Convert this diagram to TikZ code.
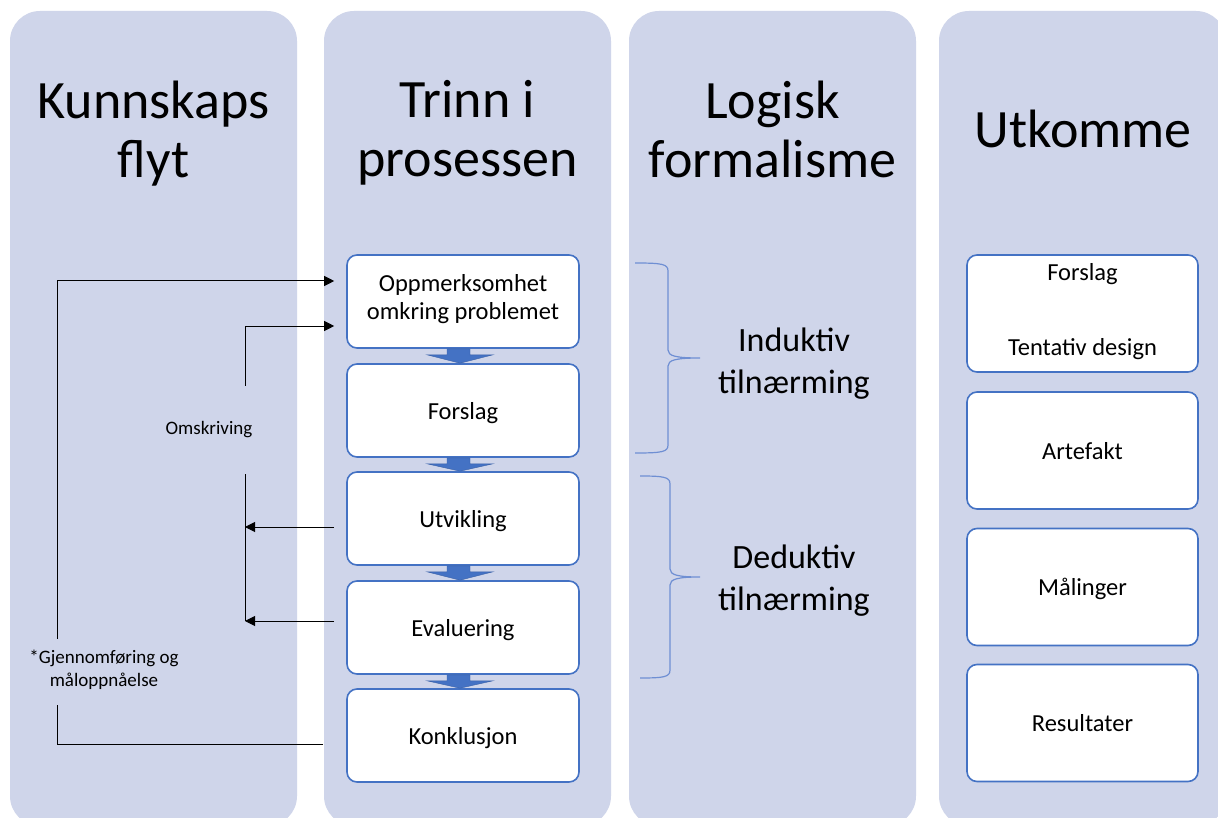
\documentclass[tikz,border=0pt]{standalone}
\usepackage{fontspec}
\setmainfont{Carlito}
\usetikzlibrary{arrows.meta,calc}
\definecolor{lanefill}{HTML}{CFD5EA}
\definecolor{accent}{HTML}{4472C4}
\definecolor{bracecol}{HTML}{6F8FD3}
% curly brace: #1 x of ends, #2 x of stem, #3 x of tip, #4 top y, #5 tip y, #6 bottom y
\newcommand\drawbrace[6]{%
  \draw[bracecol, line width=1.2pt]
    (#1,#4) .. controls (#2-6,#4) and (#2,#4+1) .. (#2,#4+8)
    -- (#2,#5-8) .. controls (#2,#5-2) and (#2+8,#5) .. (#3,#5)
    .. controls (#2+8,#5) and (#2,#5+2) .. (#2,#5+8)
    -- (#2,#6-8) .. controls (#2,#6-1) and (#2-6,#6) .. (#1,#6);}
% a taller strut that sets the box text slightly lower
\newcommand\lowstrut{\rule{0pt}{\dimexpr0.7\baselineskip+6pt\relax}}
\begin{document}
\begin{tikzpicture}[x=1pt,y=-1pt,
  lane/.style={fill=lanefill, rounded corners=30pt},
  title/.style={font=\fontsize{54}{59}\selectfont, align=center, inner sep=0pt,
    execute at begin node=\strut, execute at end node=\strut},
  stepbox/.style={draw=accent, line width=1.6pt, fill=white, rounded corners=10pt,
    minimum width=232pt, minimum height=93pt, inner sep=0pt, align=center,
    font=\fontsize{24.5}{28}\selectfont,
    execute at begin node=\lowstrut, execute at end node=\strut},
  outbox/.style={stepbox, minimum width=231pt, minimum height=117pt},
  approach/.style={font=\fontsize{34}{42}\selectfont, align=center, inner sep=0pt,
    execute at begin node=\strut, execute at end node=\strut},
  flowlabel/.style={font=\fontsize{19}{23}\selectfont, align=center, fill=lanefill,
    inner xsep=1pt, inner ysep=0pt,
    execute at begin node=\strut, execute at end node=\strut},
  link/.style={draw=black, line width=1pt},
  tip/.style={-{Triangle[length=10pt,width=10pt]}},
  blockarrow/.style={fill=accent, draw=accent!85!black, line width=0.4pt}]

\useasboundingbox (0,0) rectangle (1218,818);
\clip (0,0) rectangle (1218,818);
\fill[white] (0,0) rectangle (1218,818);

% columns
\fill[lane] (10,11) rectangle (297,826);
\fill[lane] (324,11) rectangle (611,826);
\fill[lane] (629,11) rectangle (916,826);
\fill[lane] (939,11) rectangle (1226,826);

% column headings
\node[title] (t1) at (153.5,137.7) {Kunnskaps\\flyt};
\node[title] (t2) at (467.5,137.7) {Trinn i\\prosessen};
\node[title] (t3) at (772.5,137.7) {Logisk\\formalisme};
\node[title] (t4) at (1083,136) {Utkomme};

% process steps
\node[stepbox] (b1) at (463,301.5) {Oppmerksomhet\\omkring problemet};
\node[stepbox] (b2) at (463,410.5) {Forslag};
\node[stepbox] (b3) at (463,518.5) {Utvikling};
\node[stepbox] (b4) at (463,627.5) {Evaluering};
\node[stepbox] (b5) at (463,735.5) {Konklusjon};

% block arrows between the steps
\foreach \a/\b in {b1/b2,b2/b3,b3/b4,b4/b5}{
  \path[blockarrow]
    ($(\a.south)+(-16,0)$) -- ($(\a.south)+(7,0)$) -- ($(\a.south)+(7,6)$)
    -- ($(\a.south)+(30,6)$) -- ($(\b.north)+(-3,0)$) -- ($(\a.south)+(-36,6)$)
    -- ($(\a.south)+(-16,6)$) -- cycle;
}

% outcomes
\node[outbox] (u1) at (1082.5,313.5) {Forslag\\[47pt]Tentativ design};
\node[outbox] (u2) at (1082.5,450.5) {Artefakt};
\node[outbox] (u3) at (1082.5,587) {Målinger};
\node[outbox] (u4) at (1082.5,723) {Resultater};

% logical formalism
\drawbrace{635}{668}{700}{263}{358}{453}
\drawbrace{640}{670}{700}{476}{577}{678}
\node[approach] (ind) at (794,366.6) {Induktiv\\tilnærming};
\node[approach] (ded) at (794,583.6) {Deduktiv\\tilnærming};

% knowledge flow
\coordinate (oT) at (57,281);
\coordinate (oB) at (57,744);
\coordinate (iT) at (245,326);
\coordinate (iM) at (245,527);
\coordinate (iB) at (245,621);

\draw[link,tip] ($(b5.west |- oB)+(-23,0)$) -- (oB) -- (oT) -- ($(b1.west |- oT)+(-12,0)$);
\draw[link,tip] (iB) -- (iT) -- ($(b1.west |- iT)+(-12,0)$);
\draw[link,tip] ($(b3.west |- iM)+(-12,0)$) -- (iM);
\draw[link,tip] ($(b4.west |- iB)+(-12,0)$) -- (iB);

\node[flowlabel, minimum height=88pt] (omskr) at (209,430) {Omskriving};
\node[flowlabel, minimum height=66pt] (gjen) at (104,672) {*Gjennomføring og\\måloppnåelse};
\end{tikzpicture}
\end{document}
